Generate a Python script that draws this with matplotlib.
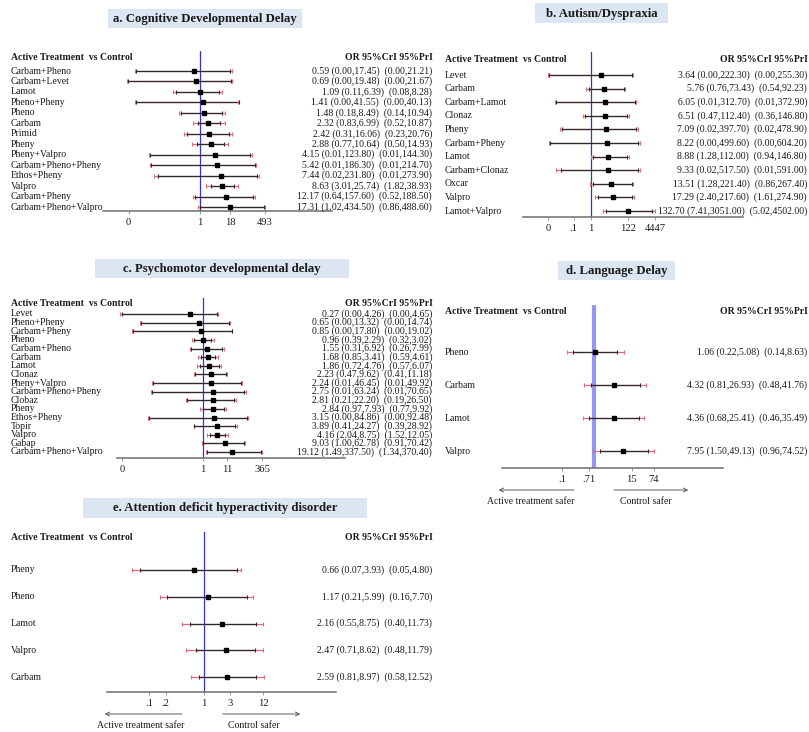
import matplotlib
matplotlib.use("Agg")
import matplotlib.pyplot as plt
import numpy as np
from matplotlib import transforms
from matplotlib.patches import Rectangle, FancyArrowPatch
from matplotlib.ticker import NullLocator, FixedLocator, FixedFormatter

plt.rcParams['font.family'] = ['Liberation Serif', 'DejaVu Serif']

# ---------------- a. Cognitive developmental delay ----------------
a_drugs = ["Carbam+Pheno", "Carbam+Levet", "Lamot", "Pheno+Pheny", "Pheno", "Carbam",
           "Primid", "Pheny", "Pheny+Valpro", "Carbam+Pheno+Pheny", "Ethos+Pheny",
           "Valpro", "Carbam+Pheny", "Carbam+Pheno+Valpro"]
a_or = [0.59, 0.69, 1.09, 1.41, 1.48, 2.32, 2.42, 2.88, 4.15, 5.42, 7.44, 8.63, 12.17, 17.31]
a_cri_lo = [0.0025, 0.0011, 0.11, 0.0025, 0.18, 0.83, 0.31, 0.77, 0.0093, 0.0103, 0.02, 3.01, 0.64, 1.02]
a_cri_hi = [17.45, 19.48, 6.39, 41.55, 8.49, 6.99, 16.06, 10.64, 123.80, 186.30, 231.80, 25.74, 157.60, 434.50]
a_pri_lo = [0.0022, 0.0010, 0.08, 0.0022, 0.14, 0.52, 0.23, 0.50, 0.0085, 0.0095, 0.013, 1.82, 0.52, 0.86]
a_pri_hi = [21.21, 21.67, 8.28, 40.13, 10.94, 10.87, 20.76, 14.93, 144.30, 214.70, 273.90, 38.93, 188.50, 488.60]

# ---------------- b. Autism / dyspraxia ----------------
b_drugs = ["Levet", "Carbam", "Carbam+Lamot", "Clonaz", "Pheny", "Carbam+Pheny", "Lamot",
           "Carbam+Clonaz", "Oxcar", "Valpro", "Lamot+Valpro"]
b_or = [3.64, 5.76, 6.05, 6.51, 7.09, 8.22, 8.88, 9.33, 13.51, 17.29, 132.70]
b_cri_lo = [0.004, 0.76, 0.01, 0.47, 0.022, 0.0045, 1.28, 0.02, 1.28, 2.40, 7.41]
b_cri_hi = [222.30, 73.43, 312.70, 112.40, 397.70, 499.60, 112.00, 517.50, 221.40, 217.60, 3051.00]
b_pri_lo = [0.0035, 0.54, 0.0085, 0.36, 0.018, 0.004, 0.94, 0.0095, 0.86, 1.61, 5.02]
b_pri_hi = [255.30, 92.23, 372.90, 146.80, 478.90, 604.20, 146.80, 591.00, 267.40, 274.90, 4502.00]

# ---------------- c. Psychomotor developmental delay ----------------
c_drugs = ["Levet", "Pheno+Pheny", "Carbam+Pheny", "Pheno", "Carbam+Pheno", "Carbam", "Lamot",
           "Clonaz", "Pheny+Valpro", "Carbam+Pheno+Pheny", "Clobaz", "Pheny", "Ethos+Pheny",
           "Topir", "Valpro", "Gabap", "Carbam+Pheno+Valpro"]
c_or = [0.27, 0.65, 0.85, 0.96, 1.55, 1.68, 1.86, 2.23, 2.24, 2.75, 2.81, 2.84, 3.15, 3.89, 4.16, 9.03, 19.12]
c_cri_lo = [0.0003, 0.002, 0.0009, 0.39, 0.31, 0.85, 0.72, 0.47, 0.0067, 0.0059, 0.21, 0.97, 0.0045,
            0.41, 2.04, 1.00, 1.49]
c_cri_hi = [4.26, 13.32, 17.80, 2.29, 6.92, 3.41, 4.76, 9.62, 46.45, 63.24, 22.20, 7.93, 84.86,
            24.27, 8.75, 62.78, 337.50]
c_pri_lo = [0.00025, 0.0018, 0.0008, 0.32, 0.26, 0.59, 0.57, 0.41, 0.006, 0.0055, 0.19, 0.77, 0.004,
            0.39, 1.52, 0.91, 1.34]
c_pri_hi = [4.65, 14.74, 19.02, 3.02, 7.99, 4.61, 6.07, 11.18, 49.92, 70.65, 26.50, 9.92, 92.48,
            28.92, 12.05, 70.42, 370.40]

# ---------------- d. Language delay ----------------
d_drugs = ["Pheno", "Carbam", "Lamot", "Valpro"]
d_or = [1.06, 4.32, 4.36, 7.95]
d_cri_lo = [0.22, 0.81, 0.68, 1.50]
d_cri_hi = [5.08, 26.93, 25.41, 49.13]
d_pri_lo = [0.14, 0.48, 0.46, 0.96]
d_pri_hi = [8.63, 41.76, 35.49, 74.52]

# ---------------- e. ADHD ----------------
e_drugs = ["Pheny", "Pheno", "Lamot", "Valpro", "Carbam"]
e_or = [0.66, 1.17, 2.16, 2.47, 2.59]
e_cri_lo = [0.07, 0.21, 0.55, 0.71, 0.81]
e_cri_hi = [3.93, 5.99, 8.75, 8.62, 8.97]
e_pri_lo = [0.05, 0.16, 0.40, 0.48, 0.58]
e_pri_hi = [4.80, 7.70, 11.73, 11.79, 12.52]

# axis ticks
a_ticks, a_ticklabels = [0.0012, 1, 18, 493], ["0", "1", "18", "493"]
b_ticks, b_ticklabels = [0.0035, 0.1, 1, 122, 4447], ["0", ".1", "1", "122", "4447"]
c_ticks, c_ticklabels = [0.0003, 1, 11, 365], ["0", "1", "11", "365"]
d_ticks, d_ticklabels = [0.1, 0.71, 15, 74], [".1", ".71", "15", "74"]
e_ticks, e_ticklabels = [0.1, 0.2, 1, 3, 12], [".1", ".2", "1", "3", "12"]

W, H = 809, 732
fig = plt.figure(figsize=(W / 100, H / 100), dpi=100)
fig.patch.set_facecolor("white")

FS = 7.0
RED = "#e46a7a"
DARK = "#2b2b2b"


def fx(px):
    return px / W


def fy(py):
    return 1 - py / H


def draw_panel(title, drugs, ors, cri_lo, cri_hi, pri_lo, pri_hi, ticks, ticklabels, lay):
    # title banner
    bx0, bx1, by0, by1 = lay["box"]
    fig.add_artist(Rectangle((fx(bx0), fy(by1)), fx(bx1 - bx0), (by1 - by0) / H,
                             transform=fig.transFigure, facecolor="#dce6f2",
                             edgecolor="none", zorder=0))
    fig.text(fx((bx0 + bx1) / 2), fy((by0 + by1) / 2 + 0.5), title, ha="center", va="center",
             fontsize=9.2, fontweight="bold", color="#1a1a1a")

    # column headers
    fig.text(fx(lay["label_x"]), fy(lay["head_y"]), "Active Treatment  vs Control",
             ha="left", va="center", fontsize=FS, fontweight="bold", color="#1a1a1a")
    fig.text(fx(lay["right_x"] + 1), fy(lay["head_y"]), "OR 95%CrI 95%PrI",
             ha="right", va="center", fontsize=FS, fontweight="bold", color="#1a1a1a")

    n = len(drugs)
    x0, x1 = lay["x0"], lay["x1"]
    top, axis_y = lay["top"], lay["axis"]
    first, last = lay["first"], lay["last"]
    spacing = (last - first) / (n - 1)
    ax = fig.add_axes([fx(x0), fy(axis_y), fx(x1 - x0), (axis_y - top) / H])
    ax.patch.set_alpha(0)
    ax.set_xscale("log")
    one, s = lay["one"], lay["s"]
    ax.set_xlim(10 ** ((x0 - one) / s), 10 ** ((x1 - one) / s))
    ax.set_ylim((n - 1) + (axis_y - last) / spacing, -(first - top) / spacing)

    y = np.arange(n)
    ax.hlines(y, pri_lo, pri_hi, color=RED, lw=0.9, zorder=2)
    ax.hlines(y, cri_lo, cri_hi, color=DARK, lw=0.9, zorder=3)
    ax.plot(pri_lo, y, ls="none", marker="|", ms=3, mew=0.8, color=RED, zorder=3)
    ax.plot(pri_hi, y, ls="none", marker="|", ms=3, mew=0.8, color=RED, zorder=3)
    ax.plot(cri_lo, y, ls="none", marker="|", ms=2.5, mew=0.8, color=DARK, zorder=4)
    ax.plot(cri_hi, y, ls="none", marker="|", ms=2.5, mew=0.8, color=DARK, zorder=4)
    ax.plot(ors, y, ls="none", marker="s", ms=2.2, color="black", zorder=5)

    vcol, vlw = lay["vline"]
    ax.axvline(1, color=vcol, lw=vlw, zorder=1)

    for side in ("top", "left", "right"):
        ax.spines[side].set_visible(False)
    ax.spines["bottom"].set_color("#6d6d6d")
    ax.spines["bottom"].set_linewidth(1.1)
    ax.set_yticks([])
    ax.xaxis.set_major_locator(FixedLocator(ticks))
    ax.xaxis.set_major_formatter(FixedFormatter(ticklabels))
    ax.xaxis.set_minor_locator(NullLocator())
    ax.tick_params(axis="x", length=2.5, width=0.6, color="#888888", pad=2.5,
                   labelsize=7.6, labelcolor="#1a1a1a")

    # row labels and estimate text
    tr = transforms.blended_transform_factory(fig.transFigure, ax.transData)
    for i in range(n):
        ax.text(fx(lay["label_x"]), i, drugs[i], transform=tr, ha="left", va="center",
                fontsize=FS, color="#1a1a1a", clip_on=False)
        est = "%.2f (%.2f,%.2f)  (%.2f,%.2f)" % (ors[i], cri_lo[i], cri_hi[i], pri_lo[i], pri_hi[i])
        ax.text(fx(lay["right_x"]), i, est, transform=tr, ha="right", va="center",
                fontsize=FS, color="#1a1a1a", clip_on=False)

    arr = lay.get("arrows")
    if arr:
        ay, ty, (l0, l1, lc), (r0, r1, rc) = arr
        for (p0, p1) in ((l0, l1), (r0, r1)):
            fig.add_artist(FancyArrowPatch((fx(p0), fy(ay)), (fx(p1), fy(ay)),
                                           transform=fig.transFigure, arrowstyle="->",
                                           mutation_scale=7, lw=0.6, color="#444444"))
        fig.text(fx(lc), fy(ty), "Active treatment safer", ha="center", va="center",
                 fontsize=FS, color="#1a1a1a")
        fig.text(fx(rc), fy(ty), "Control safer", ha="center", va="center",
                 fontsize=FS, color="#1a1a1a")


THIN = ("#3030e0", 0.9)
WIDE = ("#9696ee", 3.0)

draw_panel("a. Cognitive Developmental Delay", a_drugs, a_or, a_cri_lo, a_cri_hi, a_pri_lo, a_pri_hi,
           a_ticks, a_ticklabels,
           dict(box=(108, 302, 9, 28), label_x=11, right_x=432, head_y=58, x0=103, x1=332,
                one=199.5, s=24.3, top=51, axis=211, first=71, last=207, vline=THIN))
draw_panel("b. Autism/Dyspraxia", b_drugs, b_or, b_cri_lo, b_cri_hi, b_pri_lo, b_pri_hi,
           b_ticks, b_ticklabels,
           dict(box=(535, 668, 3, 23), label_x=445, right_x=807, head_y=59, x0=523, x1=743,
                one=591, s=17.5, top=52, axis=217, first=75, last=211, vline=THIN))
draw_panel("c. Psychomotor developmental delay", c_drugs, c_or, c_cri_lo, c_cri_hi, c_pri_lo, c_pri_hi,
           c_ticks, c_ticklabels,
           dict(box=(95, 349, 259, 278), label_x=11, right_x=432, head_y=304, x0=117, x1=345,
                one=203, s=23, top=298, axis=458, first=314, last=452, vline=THIN))
draw_panel("d. Language Delay", d_drugs, d_or, d_cri_lo, d_cri_hi, d_pri_lo, d_pri_hi,
           d_ticks, d_ticklabels,
           dict(box=(558, 675, 261, 280), label_x=445, right_x=807, head_y=312, x0=502, x1=723,
                one=594, s=32, top=305, axis=468, first=352, last=451, vline=WIDE,
                arrows=(490, 501, (577, 496, 531), (611, 691, 646))))
draw_panel("e. Attention deficit hyperactivity disorder", e_drugs, e_or, e_cri_lo, e_cri_hi,
           e_pri_lo, e_pri_hi, e_ticks, e_ticklabels,
           dict(box=(83, 367, 498, 518), label_x=11, right_x=432, head_y=537, x0=107, x1=336,
                one=204, s=55, top=532, axis=692, first=570, last=677, vline=THIN,
                arrows=(714, 725, (185, 102, 141), (220, 303, 254))))

fig.savefig("out.png", dpi=100, facecolor="white")
